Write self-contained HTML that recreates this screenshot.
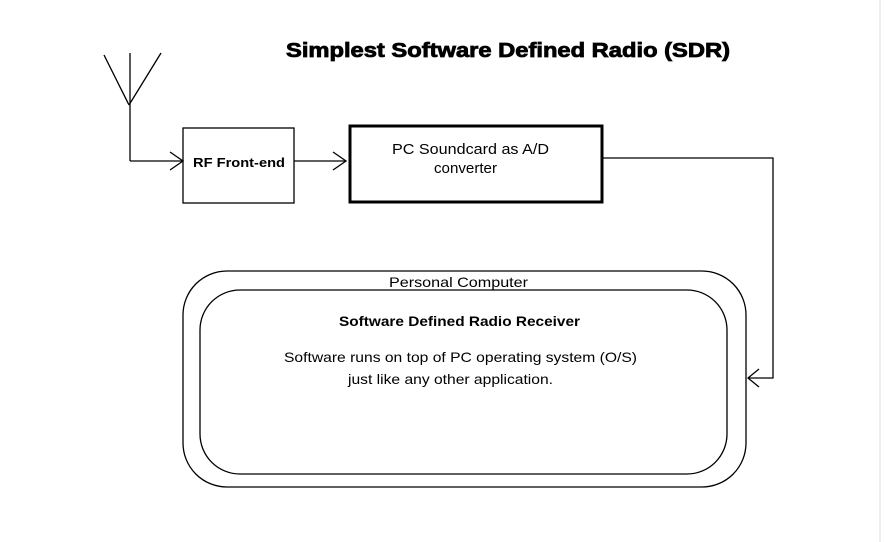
<!DOCTYPE html>
<html><head><style>
html,body{margin:0;padding:0;background:#fff;}
svg{display:block;}
text{font-family:"Liberation Sans",Arial,sans-serif;fill:#000;}
</style></head><body>
<svg width="885" height="542" viewBox="0 0 885 542" xmlns="http://www.w3.org/2000/svg">
<rect width="885" height="542" fill="#fff"/>
<line x1="880" y1="0" x2="880" y2="542" stroke="#ddd" stroke-width="1"/>
<text x="286" y="57" font-size="20" font-weight="bold" stroke="#000" stroke-width="0.8" textLength="444" lengthAdjust="spacingAndGlyphs">Simplest Software Defined Radio (SDR)</text>
<g stroke="#000" stroke-width="1.3" fill="none">
<line x1="104" y1="55" x2="129" y2="105"/>
<line x1="161" y1="53" x2="129" y2="105"/>
<line x1="130" y1="53" x2="130" y2="161"/>
<line x1="130" y1="161" x2="182" y2="161"/>
<polyline points="170,152 183,161 170,170"/>
<rect x="183" y="128" width="111" height="75"/>
<line x1="294" y1="161" x2="346" y2="161"/>
<polyline points="333,152 346,161 333,170"/>
<polyline points="603,158 773,158 773,378 748,378"/>
<polyline points="759,369 748,378 759,387"/>
<rect x="183" y="271" width="563" height="216" rx="44" ry="44"/>
<rect x="200" y="290" width="527" height="184" rx="40" ry="40"/>
</g>
<rect x="350" y="126" width="252" height="76" fill="none" stroke="#000" stroke-width="3"/>
<text x="193" y="167" font-size="13" font-weight="bold" textLength="92" lengthAdjust="spacingAndGlyphs">RF Front-end</text>
<text x="392" y="154" font-size="15" textLength="157" lengthAdjust="spacingAndGlyphs">PC Soundcard as A/D</text>
<text x="434" y="173" font-size="15" textLength="63" lengthAdjust="spacingAndGlyphs">converter</text>
<text x="389" y="287" font-size="14" textLength="139" lengthAdjust="spacingAndGlyphs">Personal Computer</text>
<text x="339" y="326" font-size="14" font-weight="bold" textLength="241" lengthAdjust="spacingAndGlyphs">Software Defined Radio Receiver</text>
<text x="284" y="362" font-size="14" textLength="353" lengthAdjust="spacingAndGlyphs">Software runs on top of PC operating system (O/S)</text>
<text x="348" y="384" font-size="14" textLength="205" lengthAdjust="spacingAndGlyphs">just like any other application.</text>
</svg>
</body></html>
